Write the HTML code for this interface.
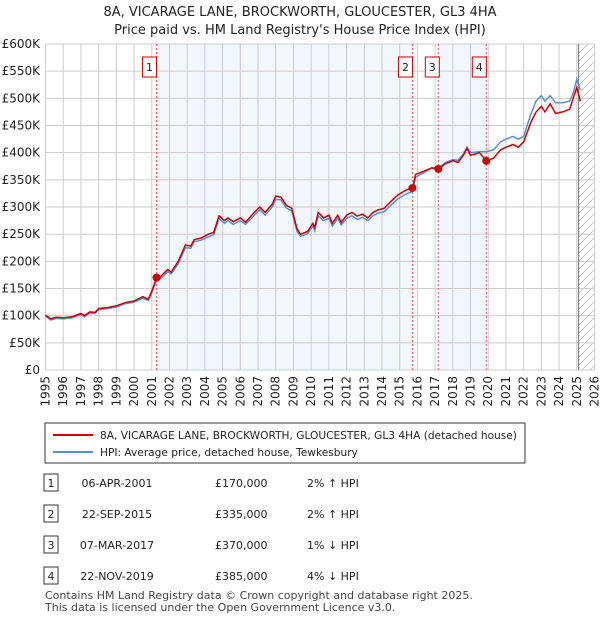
<!DOCTYPE html>
<html><head><meta charset="utf-8"><style>
body{margin:0;background:#fff;font-family:"Liberation Sans","DejaVu Sans",sans-serif;}
svg text{font-family:"DejaVu Sans","Liberation Sans",sans-serif;}
</style></head><body>
<svg id="c" width="600" height="620" xmlns="http://www.w3.org/2000/svg">
<text x="300" y="16" text-anchor="middle" font-size="13" fill="#222">8A, VICARAGE LANE, BROCKWORTH, GLOUCESTER, GL3 4HA</text>
<text x="300" y="34" text-anchor="middle" font-size="13" fill="#222">Price paid vs. HM Land Registry's House Price Index (HPI)</text>
<g id="plot"></g>
<g>
<rect x="45" y="423" width="480" height="40" fill="#fff" stroke="#333"/>
<line x1="53" y1="435" x2="93" y2="435" stroke="#c00" stroke-width="2"/>
<text x="100" y="439" font-size="10.6" fill="#222">8A, VICARAGE LANE, BROCKWORTH, GLOUCESTER, GL3 4HA (detached house)</text>
<line x1="53" y1="452" x2="93" y2="452" stroke="#5b8fd4" stroke-width="2"/>
<text x="100" y="456" font-size="10.6" fill="#222">HPI: Average price, detached house, Tewkesbury</text>
</g>
<g id="table" font-size="11" fill="#222"></g>
<text x="45" y="599" font-size="11" fill="#444">Contains HM Land Registry data © Crown copyright and database right 2025.</text>
<text x="45" y="611" font-size="11" fill="#444">This data is licensed under the Open Government Licence v3.0.</text>
</svg>
<script>
const yTicks=[0,50,100,150,200,250,300,350,400,450,500,550,600];
const xYears=[1995,1996,1997,1998,1999,2000,2001,2002,2003,2004,2005,2006,2007,2008,2009,2010,2011,2012,2013,2014,2015,2016,2017,2018,2019,2020,2021,2022,2023,2024,2025,2026];
const redT=[1995,1995.3,1995.6,1996,1996.5,1997,1997.2,1997.5,1997.8,1998,1998.5,1999,1999.5,2000,2000.5,2000.8,2001,2001.27,2001.5,2001.9,2002.1,2002.5,2002.9,2003.2,2003.4,2003.8,2004.2,2004.5,2004.8,2005.1,2005.3,2005.6,2006,2006.3,2006.7,2007.1,2007.4,2007.8,2008,2008.3,2008.6,2008.9,2009.2,2009.4,2009.8,2010.1,2010.2,2010.4,2010.7,2011,2011.2,2011.5,2011.7,2012,2012.3,2012.6,2012.9,2013.2,2013.5,2013.8,2014.1,2014.5,2014.9,2015.3,2015.5,2015.72,2015.9,2016.3,2016.8,2017.18,2017.6,2018,2018.3,2018.6,2018.8,2019,2019.5,2019.89,2020.3,2020.7,2021,2021.4,2021.7,2022,2022.4,2022.7,2023,2023.2,2023.5,2023.8,2024.2,2024.6,2024.8,2025,2025.2];
const redV=[101,94,97,96,98,104,100,107,106,113,115,118,124,127,135,130,145,170,172,185,180,200,230,228,240,243,250,253,284,275,280,273,280,272,287,300,290,305,320,318,303,298,260,250,255,270,262,290,280,285,270,285,272,285,290,283,287,280,290,295,297,310,322,330,333,335,360,365,372,370,380,385,382,395,408,395,400,385,390,405,410,415,410,420,455,475,485,475,490,472,475,480,500,520,495];
const blueV=[99,92,95,94,96,102,98,105,104,111,113,116,122,125,132,128,142,166,168,181,177,196,225,224,236,239,245,249,279,270,275,268,275,268,282,295,285,300,314,313,298,293,255,246,251,265,257,284,275,279,265,279,267,279,284,277,281,275,284,289,291,303,315,323,326,328,355,362,372,372,382,387,386,398,410,400,402,402,405,420,425,430,425,430,470,495,505,495,505,492,492,495,510,535,515];
const saleT=[2001.27,2015.72,2017.18,2019.89];
const saleV=[170,335,370,385];
const saleDates=["06-APR-2001","22-SEP-2015","07-MAR-2017","22-NOV-2019"];
const salePrices=["£170,000","£335,000","£370,000","£385,000"];
const saleHpi=["2% ↑ HPI","2% ↑ HPI","1% ↓ HPI","4% ↓ HPI"];
const X0=45.5,X1=594.5,Y0=370,Y1=44;
const xs=t=>X0+(t-1995)/31*(X1-X0);
const ys=v=>Y0-v/600*(Y0-Y1);
const NS='http://www.w3.org/2000/svg';
const g=document.getElementById('plot');
function mk(tag,at,parent){const e=document.createElementNS(NS,tag);for(const k in at)e.setAttribute(k,at[k]);(parent||g).appendChild(e);return e;}
let e;
e=mk('rect',{x:X0,y:Y1,width:X1-X0,height:Y0-Y1,fill:'#fff'});


e=mk('rect',{x:xs(saleT[0]),y:Y1,width:xs(saleT[1])-xs(saleT[0]),height:Y0-Y1,fill:'#f2f6fd'});


e=mk('rect',{x:xs(saleT[2]),y:Y1,width:xs(saleT[3])-xs(saleT[2]),height:Y0-Y1,fill:'#f2f6fd'});


const defs=mk('defs',{});
const pat=mk('pattern',{id:'h',width:8,height:8,patternUnits:'userSpaceOnUse'},defs);
mk('path',{d:'M0,8 L8,0',stroke:'#bbb','stroke-width':0.7},pat);
e=mk('rect',{x:xs(2025.1),y:Y1,width:X1-xs(2025.1),height:Y0-Y1,fill:'url(#h)'});


yTicks.forEach(v=>{
 let l=mk('line',{x1:X0,x2:X1,y1:ys(v),y2:ys(v),stroke:'#ccc'});
 
 
 let t=mk('text',{x:40,y:ys(v)+4,'text-anchor':'end','font-size':12,fill:'#222'});
 t.textContent=v===0?'£0':'£'+v+'K';
 
 
});
xYears.forEach(y=>{
 let l=mk('line',{x1:xs(y),x2:xs(y),y1:Y1,y2:Y0,stroke:'#ccc'});
 
 
 let t=mk('text',{transform:`translate(${xs(y)+4},${Y0+6}) rotate(-90)`,'text-anchor':'end','font-size':12,fill:'#222'});
 t.textContent=y;
 
 
});
e=mk('line',{x1:xs(2025.1),x2:xs(2025.1),y1:Y1,y2:Y0,stroke:'#888','stroke-width':1.2});


saleT.forEach((t,i)=>{
 let l=mk('line',{x1:xs(t),x2:xs(t),y1:Y1,y2:Y0,stroke:'#e55','stroke-dasharray':'2,2'});
 
 
 let bx=xs(t)-(i===2?13:14);
 let b=mk('rect',{x:bx,y:57,width:14,height:20,fill:'#fff',stroke:'#c00'});
 
 
 let tx=mk('text',{x:bx+7,y:71,'text-anchor':'middle','font-size':11,fill:'#222'});
 tx.textContent=String(i+1);
 
 
});
const path=(v)=>redT.map((t,i)=>(i?'L':'M')+xs(t).toFixed(1)+','+ys(v[i]).toFixed(1)).join('');
e=mk('path',{d:path(blueV),fill:'none',stroke:'#5b8fd4','stroke-width':1.5});


e=mk('path',{d:path(redV),fill:'none',stroke:'#c00','stroke-width':1.5});


saleT.forEach((t,i)=>{
 let c=mk('circle',{cx:xs(t),cy:ys(saleV[i]),r:4,fill:'#c00'});
 
 
});
const tb=document.getElementById('table');
saleT.forEach((t,i)=>{
 const y=483+i*31;
 let r=mk('rect',{x:44,y:y-9,width:14,height:17,fill:'#fff',stroke:'#333'},tb);
 
 
 const cells=[[51,String(i+1),'middle'],[117,saleDates[i],'middle'],[215,salePrices[i],'start'],[307,saleHpi[i],'start']];
 cells.forEach(c=>{
  let tx=mk('text',{x:c[0],y:y+4,'text-anchor':c[2]},tb);
  tx.textContent=c[1];
  
  
 });
});
</script>
</body></html>
